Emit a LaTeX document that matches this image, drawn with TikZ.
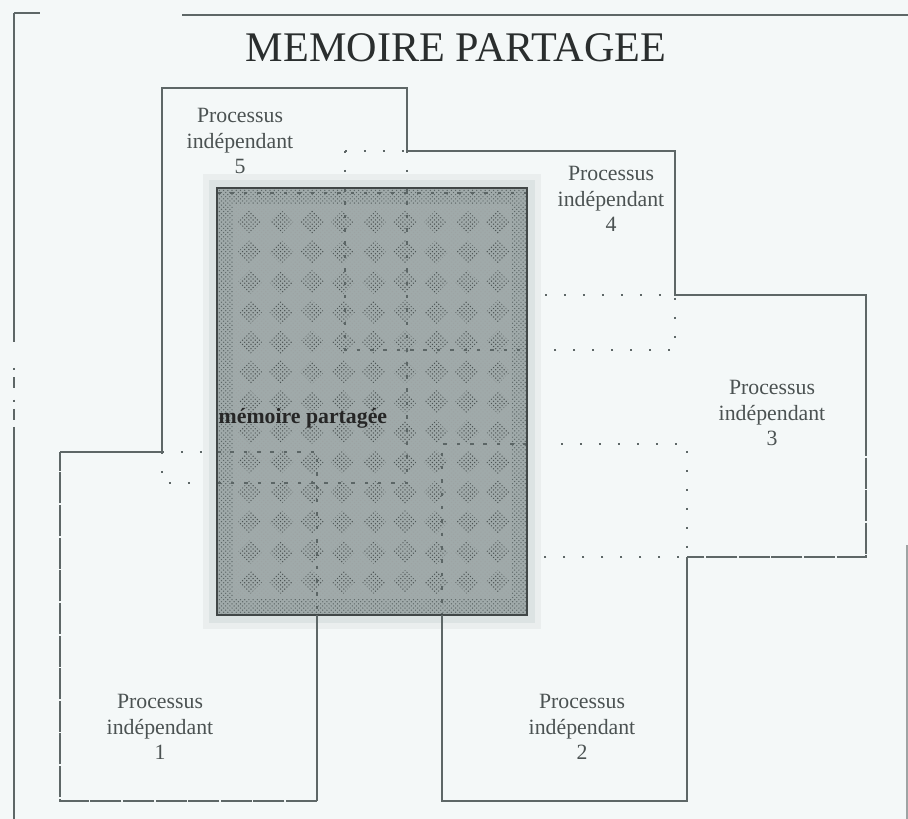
\documentclass[tikz,border=0pt]{standalone}
\usepackage{fontspec}
\setmainfont{Liberation Serif}
\usetikzlibrary{patterns}

\definecolor{paper}{HTML}{F4F8F8}
\definecolor{ink}{HTML}{5E6767}
\definecolor{memfill}{HTML}{A0AAAA}
\definecolor{memdot}{HTML}{5C6666}
\definecolor{memhalo}{HTML}{DCE3E3}

\tikzset{
  wall/.style={draw=ink, line width=1.3pt},
  worn/.style={wall, dash pattern=on 22pt off 1.2pt},
  hidden/.style={draw=ink, line width=1.2pt, dash pattern=on 1.5pt off 12pt},
  inner/.style={draw=memdot, line width=0.9pt, dash pattern=on 2.5pt off 7pt},
  proctext/.style={font=\fontsize{15.5}{18}\selectfont, text=ink!80!black, align=center},
}

\begin{document}
\begin{tikzpicture}[x=0.025cm, y=-0.025cm]

    \fill[paper] (0,0) rectangle (908,819);
    \useasboundingbox (0,0) rectangle (908,819);

    % cadre
    \draw[ink, line width=0.9pt] (14,13) -- (40,13);
    \draw[ink, line width=0.9pt] (182,15) -- (908,15);
    \draw[ink, line width=0.9pt] (14,13) -- (14,342);
    \draw[ink, line width=0.9pt, dash pattern=on 1.5pt off 5pt on 8pt off 8pt] (14,368) -- (14,427);
    \draw[ink, line width=0.9pt] (14,427) -- (14,819);
    \draw[ink!60, line width=0.9pt] (907,545) -- (907,819);

    \node[font=\fontsize{30}{36}\selectfont, text=ink!45!black] (title) at (456,48) {MEMOIRE PARTAGEE};

    % bords caches
    \draw[hidden] (345,151) -- (407,151);
    \draw[hidden] (345,151) -- (345,188);
    \draw[hidden] (407,151) -- (407,188);
    \draw[hidden] (545,295) -- (675,295) -- (675,350) -- (548,350);
    \draw[hidden] (561,444) -- (687,444) -- (687,557) -- (532,557);
    \draw[hidden] (162,452) -- (217,452);
    \draw[hidden] (162,452) -- (162,483) -- (217,483);

    % memoire partagee
    \fill[memhalo!60] (203,174) rectangle (541,629);
    \fill[memhalo] (209,180) rectangle (535,623);
    \fill[memfill] (217,188) rectangle (527,615);
    \fill[pattern=crosshatch dots, pattern color=memdot!60] (233,204) rectangle (511,599);
    \fill[pattern=crosshatch dots, pattern color=memdot, even odd rule]
        (217,188) rectangle (527,615) (233,204) rectangle (511,599);
    \foreach \i in {0,...,8}
        \foreach \j in {0,...,12}
            \fill[pattern=crosshatch dots, pattern color=memdot!80!black]
                ({250+31*\i},{222+30*\j}) ++(0,-12) -- ++(12,12) -- ++(-12,12) -- ++(-12,-12) -- cycle;

    \draw[inner] (217,193) -- (527,193);
    \draw[inner] (345,188) -- (345,350) -- (527,350);
    \draw[inner] (407,188) -- (407,483) -- (217,483);
    \draw[inner] (217,452) -- (317,452) -- (317,615);
    \draw[inner] (527,444) -- (442,444) -- (442,615);
    \draw[memdot!70!black, line width=1.6pt] (217,188) rectangle (527,615);

    \node[font=\bfseries\fontsize{15.5}{18}\selectfont, text=black!85, anchor=west, inner sep=1pt] (memlabel) at (217,418) {mémoire partagée};

    % contours des processus
    \draw[wall] (162,452) -- (162,88) -- (407,88) -- (407,151) -- (675,151) -- (675,295) -- (866,295) -- (866,425);
    \draw[worn] (866,425) -- (866,557) -- (687,557);
    \draw[wall] (687,557) -- (687,801) -- (442,801) -- (442,615);
    \draw[wall] (317,615) -- (317,801);
    \draw[worn] (317,801) -- (60,801) -- (60,452);
    \draw[wall] (60,452) -- (162,452);

    \node[proctext] (p5) at (240,141) {Processus\\indépendant\\5};
    \node[proctext] (p4) at (611,199) {Processus\\indépendant\\4};
    \node[proctext] (p3) at (772,413) {Processus\\indépendant\\3};
    \node[proctext] (p1) at (160,727) {Processus\\indépendant\\1};
    \node[proctext] (p2) at (582,727) {Processus\\indépendant\\2};

\end{tikzpicture}
\end{document}
